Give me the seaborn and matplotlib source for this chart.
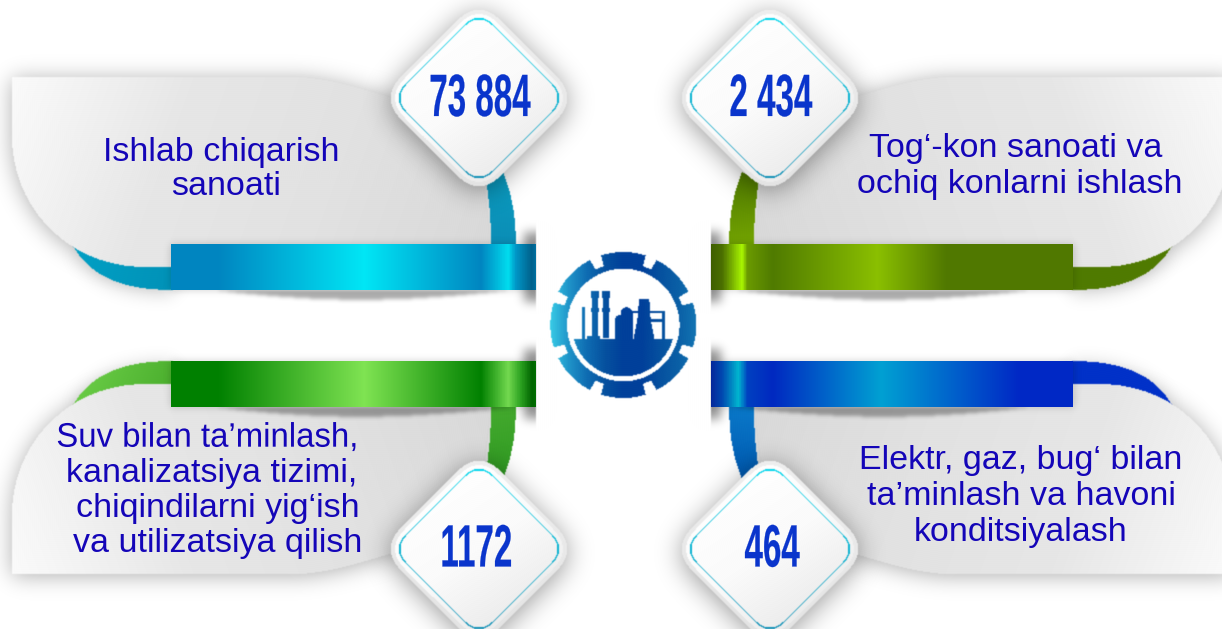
import numpy as np
import matplotlib
matplotlib.use("Agg")
import matplotlib.pyplot as plt
import matplotlib.patheffects as pe
from matplotlib.path import Path
from matplotlib.transforms import Affine2D
import seaborn as sns

# ================= Chart content =================
value_labels = ["73 884", "2 434", "1172", "464"]
text_top_left = ["Ishlab chiqarish", "sanoati"]
text_top_right = ["Tog‘-kon sanoati va", "ochiq konlarni ishlash"]
text_bottom_left = ["Suv bilan ta’minlash,", "kanalizatsiya tizimi,",
                    "chiqindilarni yig‘ish", "va utilizatsiya qilish"]
text_bottom_right = ["Elektr, gaz, bug‘ bilan", "ta’minlash va havoni", "konditsiyalash"]

# ================= Colours =================
ribbon_stops_tl = [(0, "#0085c0"), (.13, "#0085c0"), (.53, "#00e6f5"), (.85, "#0085c0"),
                   (.925, "#00dcee"), (.945, "#0098c8"), (.99, "#005f8a"), (1, "#0070a0")]
ribbon_stops_bl = [(0, "#008000"), (.13, "#008000"), (.53, "#7fe352"), (.85, "#008000"),
                   (.925, "#72d84f"), (.96, "#2aa01f"), (.99, "#006400"), (1, "#006e00")]
ribbon_stops_tr = [(0, "#3f5f00"), (.03, "#4a6e00"), (.085, "#a8f500"), (.1, "#6a9a00"),
                   (.17, "#4f7a00"), (.46, "#8abf00"), (.65, "#507800"), (1, "#507800")]
ribbon_stops_br = [(0, "#06289a"), (.03, "#0048b0"), (.075, "#00b5cf"), (.1, "#0040c0"),
                   (.17, "#0028c0"), (.47, "#00a0d2"), (.85, "#0028c5"), (1, "#0028c5")]
panel_colors = ["#fbfbfb", "#e7e7e7", "#e2e2e2", "#d9d9d9"]
text_color = "#1405b8"
number_color = "#0a35cc"

W, H = 1222, 629
PAD = 80

sns.set_theme(style="white")
plt.rcParams["font.family"] = ["Liberation Sans", "DejaVu Sans"]

fig = plt.figure(figsize=(W / 100, H / 100), dpi=100, facecolor="white")
ax = fig.add_axes([0, 0, 1, 1])
ax.set_axis_off()

gy, gx = np.mgrid[-PAD:H + PAD, -PAD:W + PAD] + 0.5


# ================= Raster helpers =================
def raster(path):
    mask = np.zeros(gx.shape)
    b = path.get_extents()
    x0 = max(int(b.x0) - 2 + PAD, 0)
    x1 = min(int(b.x1) + 3 + PAD, gx.shape[1])
    y0 = max(int(b.y0) - 2 + PAD, 0)
    y1 = min(int(b.y1) + 3 + PAD, gx.shape[0])
    if x1 <= x0 or y1 <= y0:
        return mask
    pts = np.c_[gx[y0:y1, x0:x1].ravel(), gy[y0:y1, x0:x1].ravel()]
    inside = path.contains_points(pts).reshape(y1 - y0, x1 - x0)
    mask[y0:y1, x0:x1] = inside
    return mask


def blur(mask, sigma):
    fy = np.fft.fftfreq(mask.shape[0])[:, None]
    fx = np.fft.rfftfreq(mask.shape[1])[None, :]
    kernel = np.exp(-2 * (np.pi * sigma) ** 2 * (fx ** 2 + fy ** 2))
    return np.clip(np.fft.irfft2(np.fft.rfft2(mask) * kernel, s=mask.shape), 0, 1)


def crop(a):
    return a[PAD:PAD + H, PAD:PAD + W]


def show(rgba, z):
    ax.imshow(rgba, extent=(0, W, H, 0), interpolation="nearest", aspect="auto", zorder=z)


def shadow(path, sigma, alpha, z, dx=0, dy=0):
    moved = path.transformed(Affine2D().translate(dx, dy))
    a = crop(blur(raster(moved), sigma)) * alpha
    rgba = np.zeros((H, W, 4))
    rgba[..., 3] = a
    show(rgba, z)


def fill(shape, colors, p0, p1, z):
    mask = raster(shape) if isinstance(shape, Path) else shape
    d = np.array(p1, float) - np.array(p0, float)
    t = ((gx - p0[0]) * d[0] + (gy - p0[1]) * d[1]) / (d @ d)
    cmap = sns.blend_palette(colors, n_colors=256, as_cmap=True)
    rgba = cmap(np.clip(crop(t), 0, 1))
    rgba[..., 3] = crop(blur(mask, 0.6))
    show(rgba, z)


def curve(*segments):
    # first item is the start point, then lines (1 point) and cubics (3 points)
    verts, codes = [segments[0]], [Path.MOVETO]
    for s in segments[1:]:
        if len(s) == 1:
            verts.append(s[0])
            codes.append(Path.LINETO)
        else:
            verts.extend(s)
            codes.extend([Path.CURVE4] * 3)
    verts.append(segments[0])
    codes.append(Path.CLOSEPOLY)
    return Path(verts, codes)


def rounded_diamond(cx, cy, h, d=22):
    # h is the reach of the rounded tip, d how far the rounding runs
    r = h + d * 0.25
    c = d * 0.7071
    corners = [(0, -r), (r, 0), (0, r), (-r, 0)]
    verts, codes = [], []
    for i, (x, y) in enumerate(corners):
        px, py = corners[i - 1]
        nx, ny = corners[(i + 1) % 4]
        lx, ly = (px - x) / r * 0.7071, (py - y) / r * 0.7071
        ox, oy = (nx - x) / r * 0.7071, (ny - y) / r * 0.7071
        verts += [(cx + x + lx * c, cy + y + ly * c), (cx + x, cy + y),
                  (cx + x + ox * c, cy + y + oy * c)]
        codes += [Path.LINETO if i else Path.MOVETO, Path.CURVE3, Path.CURVE3]
    verts.append(verts[0])
    codes.append(Path.CLOSEPOLY)
    return Path(verts, codes)


# ================= Base shapes (top left quadrant) =================
panel = curve((12, 77), [(300, 77)], [(335, 79), (365, 90), (400, 100)], [(480, 160)],
              [(491, 244)], [(491, 267)], [(145, 267)],
              [(70, 267), (14, 210), (12, 140)])
crescent = curve((73, 246), [(90, 275), (120, 290), (173, 290)], [(173, 262)],
                 [(140, 262)], [(115, 262), (95, 258), (73, 246)])
stem = curve((503, 172), [(512, 195), (516, 215), (516, 250)], [(491, 250)],
             [(491, 225), (490, 205), (486, 180)])
lens = curve((215, 290), [(320, 303), (400, 303), (510, 290)])
ribbon_box = Path([(171, 244), (536, 244), (536, 290), (171, 290), (171, 244)])
edge_box = Path([(524, 232), (545, 232), (545, 302), (524, 302), (524, 232)])


def place(path, flip_x, flip_y):
    m = Affine2D()
    if flip_x:
        m = m.scale(-1, 1).translate(1245, 0)
    if flip_y:
        m = m.scale(1, -1).translate(0, 651)
    return path.transformed(m)


quadrants = [
    (False, False, ["#00a8cc", "#0092b8"], ["#0a9cc0", "#0a8cb5"], (503, 172), (491, 250),
     (12, 250), (170, 290)),
    (True, False, ["#4f7a00", "#4f7a00"], ["#4f7a00", "#76a800"], (742, 172), (754, 250),
     (1233, 250), (1075, 290)),
    (False, True, ["#70d24a", "#49ad2c"], ["#2f9a22", "#45ab2e"], (503, 479), (491, 401),
     (70, 361), (170, 405)),
    (True, True, ["#0030c8", "#0030c8"], ["#0058b0", "#0a7ccc"], (742, 479), (754, 401),
     (1175, 361), (1075, 405)),
]
for i, (fx, fy, c_cres, c_stem, s0, s1, c0, c1) in enumerate(quadrants):
    pnl = place(panel, fx, fy)
    shadow(pnl, 11, 0.32, 1, dy=2)
    shadow(place(crescent, fx, fy), 9, 0.22, 1, dy=3)

for i, (fx, fy, c_cres, c_stem, s0, s1, c0, c1) in enumerate(quadrants):
    fill(place(crescent, fx, fy), c_cres, c0, c1, 2)
    p0 = (1245 - 12 if fx else 12, 651 - 77 if fy else 77)
    p1 = (1245 - 490 if fx else 490, 651 - 250 if fy else 250)
    fill(place(panel, fx, fy), panel_colors, p0, p1, 3)
    fill(place(stem, fx, fy), c_stem, s0, s1, 4)
    # soft darkening where ribbon and edge throw a shadow
    shadow(place(ribbon_box, fx, fy), 4, 0.18, 5)
    shadow(place(edge_box, fx, fy), 5, 0.42, 5)
    # the lens shadow always hangs below its ribbon
    shadow(place(lens, fx, False).transformed(Affine2D().translate(0, 117 if fy else 0)), 2, 0.32, 5)

# white block in the middle, its hard edges cut the shadows off
block = Path([(536, 192), (711, 192), (711, 455), (536, 455), (536, 192)])
fill(block, ["#ffffff", "#ffffff"], (536, 192), (711, 192), 6)


# ================= Ribbons, drawn as one-row heatmaps =================
def ribbon(x0, y0, x1, y1, stops):
    rax = fig.add_axes([x0 / W, 1 - y1 / H, (x1 - x0) / W, (y1 - y0) / H], zorder=3)
    cmap = matplotlib.colors.LinearSegmentedColormap.from_list("ribbon", stops, N=512)
    ramp = (np.arange(x1 - x0) + 0.5)[None, :] / (x1 - x0)
    sns.heatmap(ramp, cmap=cmap, vmin=0, vmax=1, cbar=False, xticklabels=False,
                yticklabels=False, ax=rax)


ribbon(171, 244, 536, 290, ribbon_stops_tl)
ribbon(711, 244, 1073, 290, ribbon_stops_tr)
ribbon(171, 361, 536, 407, ribbon_stops_bl)
ribbon(711, 361, 1073, 407, ribbon_stops_br)

# ================= Diamonds =================
diamond_centers = [(479, 98), (770, 98), (479, 549), (770, 549)]
line_colors = ["#00d6ec", "#1190b6"]
for cx, cy in diamond_centers:
    shadow(rounded_diamond(cx, cy, 88.5, 44), 13, 0.4, 7, dy=4)
    fill(rounded_diamond(cx, cy, 88.5, 44), ["#efefef", "#e4e4e4"], (cx, cy - 88), (cx, cy + 88), 8)
    fill(rounded_diamond(cx, cy, 84, 40), ["#ffffff", "#fbfbfb", "#ededed"],
         (cx - 40, cy - 60), (cx + 40, cy + 60), 9)
    ring = np.clip(raster(rounded_diamond(cx, cy, 80.4, 30)) - raster(rounded_diamond(cx, cy, 78.6, 30)), 0, 1)
    fill(ring, line_colors, (cx, cy - 80), (cx, cy + 80), 10)

# ================= Logo =================
LX, LY = 623.3, 325


def z2p(x, y):
    return 520 + x / 3, 230 + y / 3


def zrect(x0, y0, x1, y1):
    pts = [z2p(x0, y0), z2p(x1, y0), z2p(x1, y1), z2p(x0, y1), z2p(x0, y0)]
    return Path(pts)


def zpoly(*pts):
    pts = [z2p(*p) for p in pts]
    return Path(pts + [pts[0]])


def zcircle(x, y, r):
    return Path.circle(z2p(x, y), r / 3)


def arc_pts(r, a0, a1, n=12):
    a = np.radians(np.linspace(a0, a1, n))
    return np.c_[LX + r * np.cos(a), LY - r * np.sin(a)]


outline = []
for tooth in range(8):
    a = 90 - tooth * 45
    # clockwise round the gear
    outline.append(arc_pts(62, a + 18.4, a + 18.4, 1))
    outline.append(arc_pts(73, a + 17.8, a - 17.8, 16))
    outline.append(arc_pts(62, a - 18.4, a - 26.6, 4))
outline = np.vstack(outline)
gear = raster(Path(np.vstack([outline, outline[:1]])))
hole = raster(Path.circle((LX, LY), 56.3))
logo_mask = np.clip(gear - hole, 0, 1)

seg = arc_pts(51.5, 180 + 16, 360 - 16, 40)
parts = [Path(np.vstack([seg, seg[:1]])),
         zrect(186, 230, 195, 330), zrect(200, 318, 240, 330),
         zrect(217, 190, 233, 325), zrect(214, 183, 236, 205), zrect(214, 235, 236, 245),
         zrect(250, 190, 266, 325), zrect(247, 183, 269, 205), zrect(247, 235, 269, 245),
         zrect(285, 270, 338, 330), zcircle(320, 250, 18), zcircle(300, 270, 15),
         zrect(302, 250, 338, 290),
         zpoly((357, 208), (388, 208), (392, 270), (404, 330), (340, 330), (352, 270)),
         zrect(337, 243, 435, 250), zrect(425, 243, 435, 330), zrect(390, 268, 428, 275)]
for part in parts:
    logo_mask = np.maximum(logo_mask, raster(part))
logo_colors = ["#38cbe6", "#1f94c9", "#0e6cb2", "#05509f", "#003f9a", "#003f9a",
               "#05509f", "#0a5fa6", "#1274b3"]
fill(logo_mask, logo_colors, (550, 325), (697, 325), 11)


# ================= Text =================
class Narrow(pe.AbstractPathEffect):
    # squeezes the glyphs sideways around their centre, no condensed font is installed
    def __init__(self, sx, lw):
        super().__init__()
        self.sx = sx
        self.lw = lw

    def draw_path(self, renderer, gc, tpath, affine, rgbFace=None):
        b = tpath.get_extents(affine)
        cx = (b.x0 + b.x1) / 2
        squeezed = affine + Affine2D().translate(-cx, 0).scale(self.sx, 1).translate(cx, 0)
        gc0 = renderer.new_gc()
        gc0.copy_properties(gc)
        gc0.set_linewidth(self.lw)
        gc0.set_foreground(rgbFace)
        renderer.draw_path(gc0, tpath, squeezed, rgbFace)
        gc0.restore()


number_xy = [(479.5, 116), (770.5, 116), (476, 566.5), (772, 566.5)]
for label, (x, y) in zip(value_labels, number_xy):
    ax.text(x, y, label, ha="center", va="baseline", fontsize=43, fontweight="bold",
            color=number_color, zorder=20, path_effects=[Narrow(0.555, 0.15)])

text_blocks = [
    (text_top_left, [221, 226], [161, 195]),
    (text_top_right, [1016, 1020], [157, 192.7]),
    (text_bottom_left, [207.5, 212, 218, 218], [446.7, 481.7, 516.7, 552]),
    (text_bottom_right, [1021, 1021, 1021], [469, 505, 540.5]),
]
for lines, xs, ys in text_blocks:
    for line, x, y in zip(lines, xs, ys):
        t = ax.text(x, y, line, ha="center", va="baseline", fontsize=24.5, color=text_color, zorder=20)
        if line.startswith("Suv"):
            # this line sits tighter in the picture than the others
            t.set_path_effects([Narrow(0.968, 0)])

ax.set_xlim(0, W)
ax.set_ylim(H, 0)
fig.savefig("out.png", dpi=100, facecolor="white")
